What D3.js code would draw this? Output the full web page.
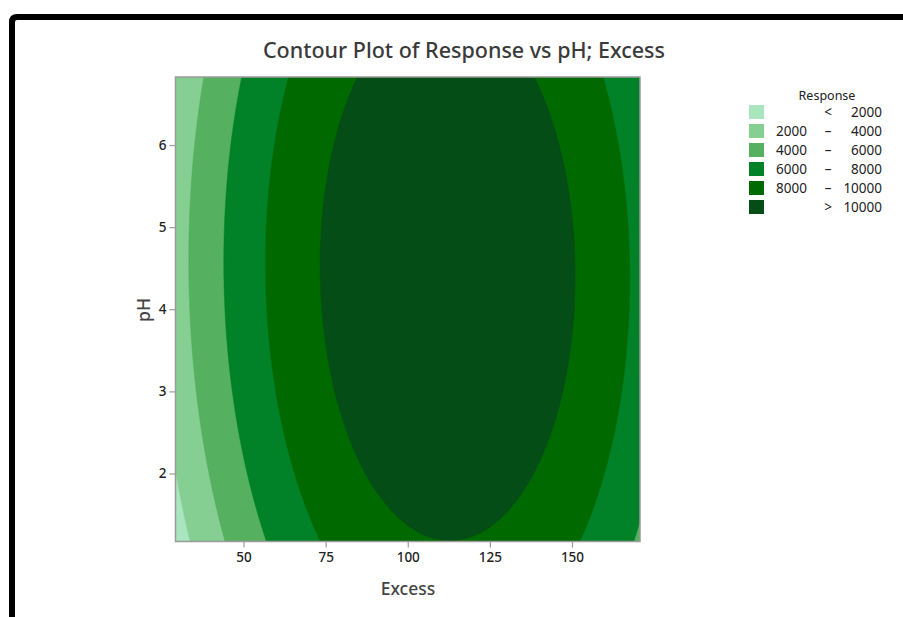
<!DOCTYPE html>
<html>
<head>
<meta charset="utf-8">
<script src="https://cdn.jsdelivr.net/npm/d3@7/dist/d3.min.js"></script>
<style>
  html, body { margin: 0; padding: 0; background: #fff; }
  svg { display: block; font-family: "Segoe UI", "Noto Sans", "Open Sans", sans-serif; }
</style>
</head>
<body>
<svg id="chart" width="903" height="617"></svg>
<script>
// ---- Data ----
const excessDomain = [29.289, 170.711];
const phDomain = [1.1716, 6.8284];
const excessTicks = [50, 75, 100, 125, 150];
const phTicks = [2, 3, 4, 5, 6];
const levels = [2000, 4000, 6000, 8000, 10000];
const levelColors = ["#a9e5bf", "#85cf93", "#55b05f", "#018228", "#006a00", "#054d17"];
const legendLabels = [
  ["", "<", "2000"],
  ["2000", "–", "4000"],
  ["4000", "–", "6000"],
  ["6000", "–", "8000"],
  ["8000", "–", "10000"],
  ["", ">", "10000"]
];
// Fitted quadratic response surface: Response = b0 + b1*Excess + b2*pH + b11*Excess^2 + b22*pH^2 + b12*Excess*pH
const modelTerms = ["const", "Excess", "pH", "Excess^2", "pH^2", "Excess*pH"];
const modelCoefs = [-7971, 288.7, 1660.4, -1.2755, -178.6, -0.59];

// ---- Layout ----
const svg = d3.select("#chart");
const plot = { left: 175.5, right: 640, top: 77, bottom: 541.5 };

const x = d3.scaleLinear().domain(excessDomain).range([plot.left, plot.right]);
const y = d3.scaleLinear().domain(phDomain).range([plot.bottom, plot.top]);

// frame
svg.append("path")
  .attr("d", `M12,617 L12,22 Q12,17 17,17 L903,17`)
  .attr("fill", "none").attr("stroke", "#000").attr("stroke-width", 6);

// title
svg.append("text")
  .attr("x", 464).attr("y", 58)
  .attr("text-anchor", "middle")
  .attr("font-size", 21.5).attr("font-weight", 500).attr("fill", "#3a3a3a")
  .text("Contour Plot of Response vs pH; Excess");

// grid of model values
function response(e, p) {
  const t = [1, e, p, e * e, p * p, e * p];
  return d3.sum(t, (v, i) => v * modelCoefs[i]);
}
const nx = 300, ny = 300;
const values = new Array(nx * ny);
for (let j = 0; j < ny; j++) {
  const p = phDomain[1] - (j / (ny - 1)) * (phDomain[1] - phDomain[0]);
  for (let i = 0; i < nx; i++) {
    const e = excessDomain[0] + (i / (nx - 1)) * (excessDomain[1] - excessDomain[0]);
    values[j * nx + i] = response(e, p);
  }
}
const gx = d3.scaleLinear().domain([0, nx - 1]).range(excessDomain);
const gy = d3.scaleLinear().domain([0, ny - 1]).range([phDomain[1], phDomain[0]]);
const proj = d3.geoTransform({
  point(px, py) {
    const cx = Math.max(0, Math.min(nx - 1, px - 0.5));
    const cy = Math.max(0, Math.min(ny - 1, py - 0.5));
    this.stream.point(x(gx(cx)), y(gy(cy)));
  }
});
const path = d3.geoPath(proj);

svg.append("clipPath").attr("id", "plotclip")
  .append("rect").attr("x", plot.left).attr("y", plot.top)
  .attr("width", plot.right - plot.left).attr("height", plot.bottom - plot.top);

const g = svg.append("g").attr("clip-path", "url(#plotclip)");
g.append("rect").attr("x", plot.left).attr("y", plot.top)
  .attr("width", plot.right - plot.left).attr("height", plot.bottom - plot.top)
  .attr("fill", levelColors[0]);

const contours = d3.contours().size([nx, ny]).thresholds(levels)(values);
g.selectAll("path.band").data(contours).join("path")
  .attr("class", "band")
  .attr("d", path)
  .attr("fill", (d, i) => levelColors[i + 1])
  .attr("stroke", (d, i) => levelColors[i + 1])
  .attr("stroke-width", 0.5);

// plot border
svg.append("rect").attr("x", plot.left).attr("y", plot.top)
  .attr("width", plot.right - plot.left).attr("height", plot.bottom - plot.top)
  .attr("fill", "none").attr("stroke", "#9a9a9a").attr("stroke-width", 1.5);

// axes
const xAxis = svg.append("g").attr("transform", `translate(0,${plot.bottom})`)
  .call(d3.axisBottom(x).tickValues(excessTicks).tickSize(6).tickPadding(5).tickFormat(d3.format("d")));
const yAxis = svg.append("g").attr("transform", `translate(${plot.left},0)`)
  .call(d3.axisLeft(y).tickValues(phTicks).tickSize(6).tickPadding(3).tickFormat(d3.format("d")));
[xAxis, yAxis].forEach(ax => {
  ax.select(".domain").remove();
  ax.selectAll(".tick line").attr("stroke", "#9a9a9a").attr("stroke-width", 1.2);
  ax.selectAll(".tick text").attr("fill", "#222").attr("font-size", 13.5).attr("font-weight", 500)
    .attr("font-family", "\"Segoe UI\", \"Noto Sans\", sans-serif");
});

// axis titles
svg.append("text").attr("x", 408).attr("y", 595)
  .attr("text-anchor", "middle").attr("font-size", 17.5).attr("font-weight", 500).attr("fill", "#444")
  .text("Excess");
svg.append("text")
  .attr("transform", "translate(150,310) rotate(-90)")
  .attr("text-anchor", "middle").attr("font-size", 17.5).attr("font-weight", 500).attr("fill", "#444")
  .text("pH");

// legend
const lg = svg.append("g");
lg.append("text").attr("x", 827).attr("y", 100)
  .attr("text-anchor", "middle").attr("font-size", 12.5).attr("fill", "#222")
  .text("Response");
const rows = lg.selectAll("g.row").data(legendLabels).join("g")
  .attr("class", "row")
  .attr("transform", (d, i) => `translate(0,${105 + i * 19})`);
rows.append("rect").attr("x", 749).attr("y", 0).attr("width", 15).attr("height", 14)
  .attr("fill", (d, i) => levelColors[i]);
rows.append("text").attr("x", 776).attr("y", 12)
  .attr("font-size", 13.5).attr("fill", "#222").text(d => d[0]);
rows.append("text").attr("x", 828).attr("y", 12).attr("text-anchor", "middle")
  .attr("font-size", 13.5).attr("fill", "#222").text(d => d[1]);
rows.append("text").attr("x", 882).attr("y", 12).attr("text-anchor", "end")
  .attr("font-size", 13.5).attr("fill", "#222").text(d => d[2]);
</script>
</body>
</html>
